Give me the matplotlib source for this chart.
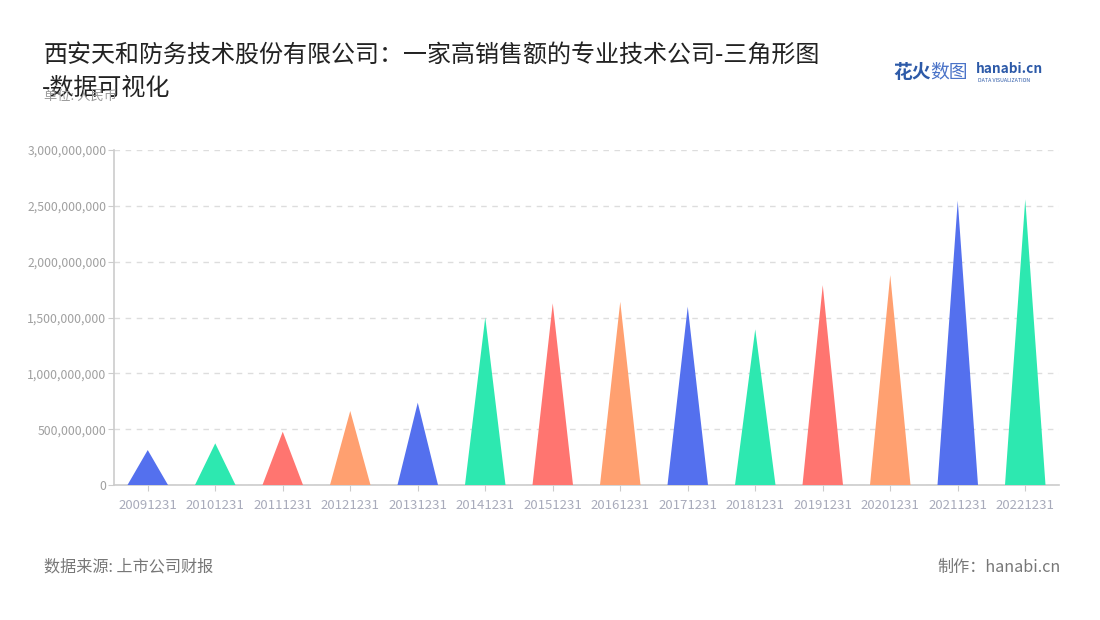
import matplotlib
matplotlib.use("Agg")
import matplotlib.pyplot as plt
from matplotlib.ticker import FuncFormatter, MultipleLocator

plt.rcParams['font.family'] = ['Noto Sans CJK SC', 'DejaVu Sans']

categories = ["20091231", "20101231", "20111231", "20121231", "20131231", "20141231",
              "20151231", "20161231", "20171231", "20181231", "20191231", "20201231",
              "20211231", "20221231"]
values = [313e6, 373e6, 477e6, 663e6, 737e6, 1500e6, 1627e6, 1641e6, 1597e6,
          1394e6, 1790e6, 1880e6, 2546e6, 2558e6]
palette = ["#5470EE", "#2DE8B0", "#FF7570", "#FFA070"]

title_l1 = "西安天和防务技术股份有限公司：一家高销售额的专业技术公司-三角形图"
title_l2 = "-数据可视化"
unit = "单位: 人民币"
source = "数据来源: 上市公司财报"
maker = "制作：hanabi.cn"

fig = plt.figure(figsize=(11, 6.2), dpi=100)
ax = fig.add_axes([114/1100, 1-485/620, (1059-114)/1100, (485-150)/620])

half = 0.3
for i, v in enumerate(values):
    ax.fill([i-half, i, i+half], [0, v, 0], color=palette[i % 4], lw=0, zorder=3)

ax.set_xlim(-0.5, len(categories)-0.5)
ax.set_ylim(0, 3e9)
ax.yaxis.set_major_locator(MultipleLocator(5e8))
ax.yaxis.set_major_formatter(FuncFormatter(lambda v, p: f"{int(v):,}"))
ax.set_xticks(range(len(categories)))
ax.set_xticklabels(categories)
ax.grid(axis='y', color='#dddddd', linestyle=(0, (4, 4)), lw=1, zorder=0)
for s in ['top', 'right']:
    ax.spines[s].set_visible(False)
for s in ['left', 'bottom']:
    ax.spines[s].set_color('#cccccc')
    ax.spines[s].set_linewidth(1.2)
ax.tick_params(axis='y', colors='#cccccc', labelcolor='#a0a0a0', labelsize=8.8, length=4, pad=1.5)
ax.tick_params(axis='x', colors='#cccccc', labelcolor='#a8abbb', labelsize=9.5, length=4, pad=6)

fig.text(44/1100, 1-55/620, title_l1, fontsize=17.3, color='#222222', va='center', ha='left')
fig.text(42/1100, 1-88/620, title_l2, fontsize=17.3, color='#222222', va='center', ha='left')
fig.text(44/1100, 1-96/620, unit, fontsize=9.5, color='#999999', va='center', ha='left')
fig.text(44/1100, 1-567/620, source, fontsize=11.6, color='#777777', va='center', ha='left')
fig.text(1061/1100, 1-567/620, maker, fontsize=11.6, color='#777777', va='center', ha='right')

# logo
fig.text(893/1100, 1-72/620, "花火", fontsize=13.5, color='#2D5AA8', fontweight='bold', va='center', ha='left')
fig.text(930/1100, 1-72/620, "数图", fontsize=13.5, color='#4A73C8', va='center', ha='left')
fig.text(976/1100, 1-69/620, "hanabi.cn", fontsize=9.8, color='#2D5AA8', fontweight='bold', va='center', ha='left')
fig.text(978/1100, 1-80/620, "DATA VISUALIZATION", fontsize=3.8, color='#2D5AA8', va='center', ha='left')

fig.savefig("out.png", dpi=100)
